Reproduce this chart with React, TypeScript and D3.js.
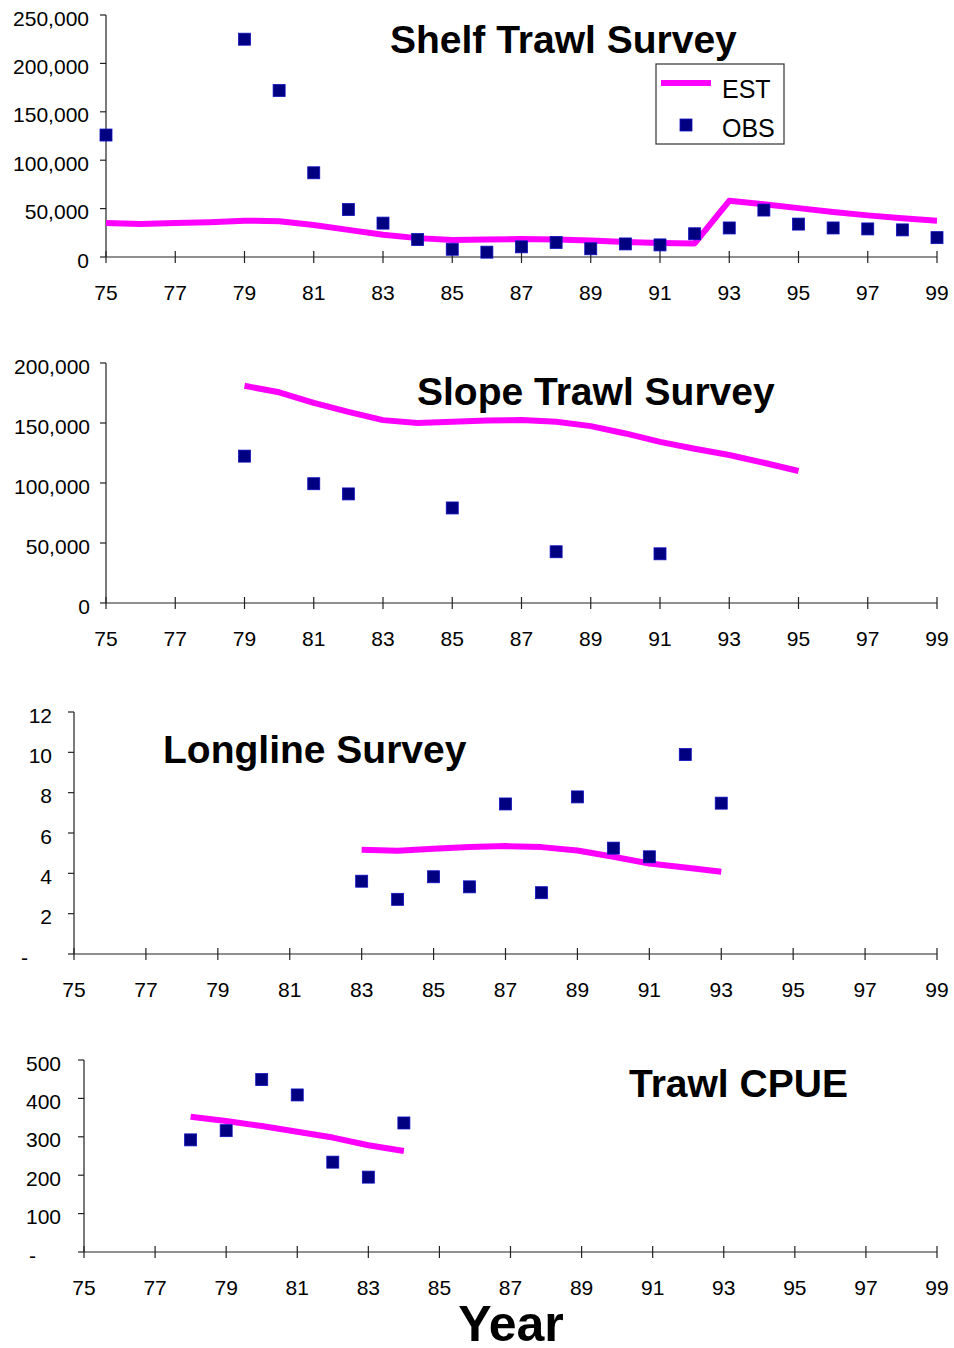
import React from "react";
import * as d3 from "d3";

const yearTicks = [75, 77, 79, 81, 83, 85, 87, 89, 91, 93, 95, 97, 99];

// Shelf Trawl Survey
const shelfYears = [75, 76, 77, 78, 79, 80, 81, 82, 83, 84, 85, 86, 87, 88, 89, 90, 91, 92, 93, 94, 95, 96, 97, 98, 99];
const shelfObs = [126000, null, null, null, 225000, 172000, 87000, 49000, 35000, 18000, 8000, 5000, 10500, 15000, 8500, 13500, 12500, 24000, 30000, 48500, 34000, 30000, 29000, 28000, 20000];
const shelfEst = [35000, 34000, 35000, 36000, 37500, 37000, 33000, 28000, 23000, 19500, 17500, 18000, 18500, 18000, 17000, 15500, 14500, 14000, 58000, 54500, 50500, 46500, 43000, 40000, 37500];
const shelfYTicks = [0, 50000, 100000, 150000, 200000, 250000];

// Slope Trawl Survey
const slopeObsYears = [79, 81, 82, 85, 88, 91];
const slopeObs = [122400, 99400, 90900, 79200, 42700, 41000];
const slopeEstYears = [79, 80, 81, 82, 83, 84, 85, 86, 87, 88, 89, 90, 91, 92, 93, 94, 95];
const slopeEst = [181000, 175600, 166800, 159300, 152400, 150000, 151000, 152000, 152400, 151000, 147400, 141300, 134300, 128500, 123300, 116900, 110000];
const slopeYTicks = [0, 50000, 100000, 150000, 200000];

// Longline Survey
const longYears = [83, 84, 85, 86, 87, 88, 89, 90, 91, 92, 93];
const longObs = [3.61, 2.71, 3.83, 3.33, 7.44, 3.04, 7.79, 5.25, 4.82, 9.89, 7.48];
const longEst = [5.17, 5.12, 5.22, 5.31, 5.35, 5.3, 5.13, 4.82, 4.49, 4.29, 4.08];
const longYTicks = [0, 2, 4, 6, 8, 10, 12];

// Trawl CPUE
const cpueYears = [78, 79, 80, 81, 82, 83, 84];
const cpueObs = [292, 316, 449, 409, 234, 195, 336];
const cpueEst = [352, 341, 328, 313, 298, 278, 263];
const cpueYTicks = [0, 100, 200, 300, 400, 500];

const FONT = "'Liberation Sans', Arial, 'DejaVu Sans', sans-serif";
const NAVY = "#000080";
const MAGENTA = "#FF00FF";

type Pt = { x: number; y: number };

function zip(xs: number[], ys: (number | null)[]): Pt[] {
  const out: Pt[] = [];
  xs.forEach((x, i) => {
    const v = ys[i];
    if (v !== null && v !== undefined) out.push({ x, y: v });
  });
  return out;
}

type PanelProps = {
  left: number;
  right: number;
  top: number;
  bottom: number;
  yMax: number;
  yTicks: number[];
  labelRight: number;
  dashZero?: boolean;
  dashRight?: number;
  obs: Pt[];
  est: Pt[];
  title: string;
  titleX: number;
  titleY: number;
  legend?: boolean;
};

function Panel(p: PanelProps) {
  const x = d3.scaleLinear().domain([75, 99]).range([p.left, p.right]);
  const y = d3.scaleLinear().domain([0, p.yMax]).range([p.bottom, p.top]);
  const line = d3
    .line<Pt>()
    .x((d) => x(d.x))
    .y((d) => y(d.y))
    .curve(d3.curveLinear);
  const fmt = d3.format(",");
  const ms = 12;
  return (
    <g>
      <line x1={p.left} x2={p.left} y1={p.top} y2={p.bottom} stroke="#222" strokeWidth={1.2} />
      <line x1={p.left} x2={p.right} y1={p.bottom} y2={p.bottom} stroke="#222" strokeWidth={1.2} />
      {p.yTicks.map((t) => (
        <g key={"yt" + t}>
          <line x1={p.left - 6} x2={p.left} y1={y(t)} y2={y(t)} stroke="#222" strokeWidth={1.2} />
          {p.dashZero && t === 0 ? (
            <text x={p.dashRight} y={y(t) + 10.5} textAnchor="end" fontSize={21} fontFamily={FONT} fill="#000">
              -
            </text>
          ) : (
            <text x={p.labelRight} y={y(t) + 10.5} textAnchor="end" fontSize={21} fontFamily={FONT} fill="#000">
              {fmt(t)}
            </text>
          )}
        </g>
      ))}
      {yearTicks.map((t) => (
        <g key={"xt" + t}>
          <line x1={x(t)} x2={x(t)} y1={p.bottom - 6} y2={p.bottom + 6} stroke="#222" strokeWidth={1.2} />
          <text x={x(t)} y={p.bottom + 43} textAnchor="middle" fontSize={21} fontFamily={FONT} fill="#000">
            {t}
          </text>
        </g>
      ))}
      <path d={line(p.est) || ""} fill="none" stroke={MAGENTA} strokeWidth={6} strokeLinejoin="round" />
      {p.obs.map((d, i) => (
        <rect
          key={"o" + i}
          x={x(d.x) - ms / 2}
          y={y(d.y) - ms / 2}
          width={ms}
          height={ms}
          fill={NAVY}
          stroke="#1010c0"
          strokeWidth={0.8}
        />
      ))}
      <text x={p.titleX} y={p.titleY} fontSize={39} fontWeight="bold" fontFamily={FONT} fill="#000">
        {p.title}
      </text>
      {p.legend && (
        <g>
          <rect x={656} y={64} width={128} height={80} fill="#fff" stroke="#333" strokeWidth={1.2} />
          <line x1={661} x2={711} y1={83} y2={83} stroke={MAGENTA} strokeWidth={6} />
          <text x={722} y={98} fontSize={25} fontFamily={FONT} fill="#000">
            EST
          </text>
          <rect x={686 - ms / 2} y={125 - ms / 2} width={ms} height={ms} fill={NAVY} stroke="#1010c0" strokeWidth={0.8} />
          <text x={722} y={137} fontSize={25} fontFamily={FONT} fill="#000">
            OBS
          </text>
        </g>
      )}
    </g>
  );
}

export default function App() {
  return (
    <svg
      width={954}
      height={1348}
      style={{ position: "absolute", left: 0, top: 0, background: "#fff" }}
    >
      <rect x={0} y={0} width={954} height={1348} fill="#fff" />
      <Panel
        left={106}
        right={937}
        top={15}
        bottom={257}
        yMax={250000}
        yTicks={shelfYTicks}
        labelRight={89}
        obs={zip(shelfYears, shelfObs)}
        est={zip(shelfYears, shelfEst)}
        title="Shelf Trawl Survey"
        titleX={390}
        titleY={53}
        legend
      />
      <Panel
        left={106}
        right={937}
        top={363}
        bottom={603}
        yMax={200000}
        yTicks={slopeYTicks}
        labelRight={90}
        obs={zip(slopeObsYears, slopeObs)}
        est={zip(slopeEstYears, slopeEst)}
        title="Slope Trawl Survey"
        titleX={417}
        titleY={405}
      />
      <Panel
        left={74}
        right={937}
        top={712}
        bottom={954}
        yMax={12}
        yTicks={longYTicks}
        labelRight={52}
        dashZero
        dashRight={28}
        obs={zip(longYears, longObs)}
        est={zip(longYears, longEst)}
        title="Longline Survey"
        titleX={163}
        titleY={763}
      />
      <Panel
        left={84}
        right={937}
        top={1060}
        bottom={1252}
        yMax={500}
        yTicks={cpueYTicks}
        labelRight={61}
        dashZero
        dashRight={36}
        obs={zip(cpueYears, cpueObs)}
        est={zip(cpueYears, cpueEst)}
        title="Trawl CPUE"
        titleX={629}
        titleY={1097}
      />
      <text x={511} y={1341} textAnchor="middle" fontSize={50} fontWeight="bold" fontFamily={FONT} fill="#000">
        Year
      </text>
    </svg>
  );
}
